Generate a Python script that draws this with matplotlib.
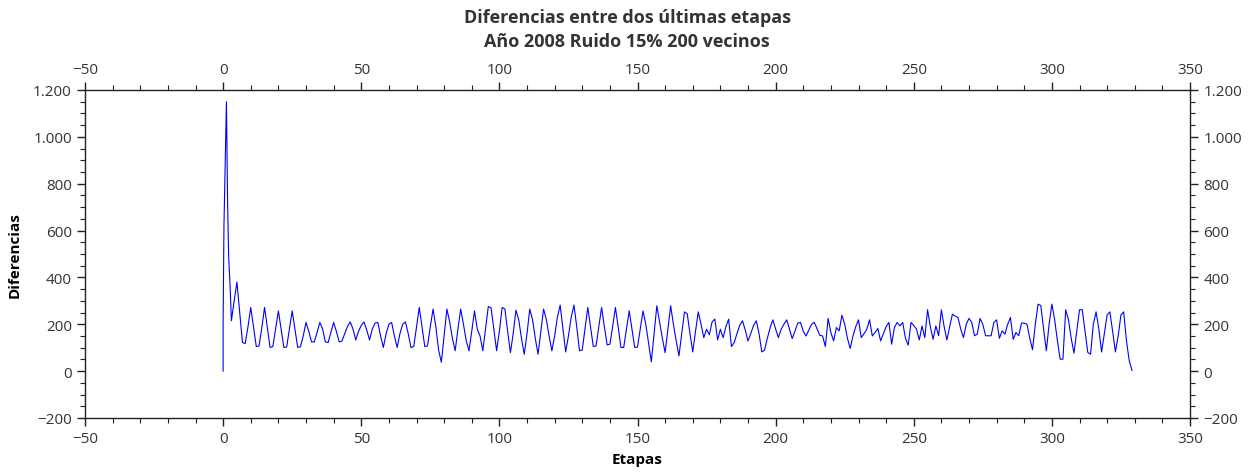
import numpy as np
import matplotlib
matplotlib.use("Agg")
import matplotlib.pyplot as plt
from matplotlib.ticker import MultipleLocator, FuncFormatter

plt.rcParams['font.family'] = ['Open Sans', 'DejaVu Sans']

# Initial spike (stage positions and values)
etapas_inicio = [0, 0, 0.3, 1.0, 1.2, 1.6, 2.0, 2.5]
dif_inicio = [0, 210, 620, 1030, 1150, 730, 490, 370]

# Regular stages from 3 to 329
etapa_regular_inicio = 3
dif_regular = [
    215, 300, 380, 250, 122, 118, 190,                     # 3-9
    272, 190, 105, 108, 185, 272, 185, 101, 105, 180,      # 10-19
    257, 180, 101, 103, 180, 257, 180, 101, 104, 150,      # 20-29
    208, 170, 125, 125, 165, 208, 180, 125, 122, 165,      # 30-39
    208, 170, 125, 128, 160, 190, 210, 180, 133, 170,      # 40-49
    195, 210, 175, 133, 180, 205, 208, 150, 101, 160,      # 50-59
    200, 208, 150, 101, 160, 200, 210, 160, 101, 105,      # 60-69
    190, 272, 190, 105, 108, 190, 265, 190, 90, 38,        # 70-79
    150, 265, 210, 140, 87, 180, 265, 200, 130, 87,        # 80-89
    170, 257, 179, 150, 87, 180, 276, 270, 180, 87,        # 90-99
    170, 272, 265, 170, 79, 160, 260, 220, 140, 72,        # 100-109
    160, 265, 220, 140, 72, 170, 265, 220, 150, 87,        # 110-119
    150, 230, 282, 180, 82, 150, 230, 282, 190, 87,        # 120-129
    90, 180, 272, 190, 105, 108, 190, 272, 190, 112,       # 130-139
    115, 190, 272, 190, 101, 101, 180, 257, 180, 101,      # 140-149
    103, 180, 257, 200, 120, 40, 160, 279, 210, 140,       # 150-159
    79, 180, 279, 200, 130, 65, 160, 253, 245, 160,        # 160-169
    82, 170, 253, 200, 143, 179, 155, 210, 222, 133,       # 170-179
    179, 143, 190, 222, 105, 122, 160, 195, 215, 175,      # 180-189
    129, 160, 195, 215, 160, 82, 90, 140, 185, 219,        # 190-199
    180, 143, 179, 200, 219, 180, 139, 170, 205, 208,      # 200-209
    170, 150, 175, 200, 208, 180, 153, 150, 105, 225,      # 210-219
    165, 129, 186, 172, 239, 200, 140, 97, 150, 190,       # 220-229
    219, 143, 160, 179, 219, 150, 165, 182, 129, 160,      # 230-239
    190, 208, 115, 186, 208, 193, 208, 140, 111, 208,      # 240-249
    195, 179, 133, 193, 143, 262, 190, 136, 193, 151,      # 250-259
    262, 190, 133, 190, 243, 235, 229, 180, 143, 200,      # 260-269
    225, 208, 151, 158, 225, 200, 151, 151, 151, 208,      # 270-279
    219, 140, 172, 158, 200, 229, 136, 165, 151, 205,      # 280-289
    205, 200, 140, 91, 200, 286, 280, 180, 87, 200,        # 290-299
    286, 220, 130, 51, 51, 262, 220, 140, 77, 170,         # 300-309
    262, 262, 170, 80, 72, 200, 253, 180, 82, 160,         # 310-319
    240, 253, 170, 82, 150, 240, 253, 129, 45, 3,          # 320-329
]

etapas = list(etapas_inicio) + list(range(etapa_regular_inicio,
                                          etapa_regular_inicio + len(dif_regular)))
diferencias = list(dif_inicio) + list(dif_regular)

fig = plt.figure(figsize=(12.54, 4.77), dpi=100)
ax = fig.add_axes([85/1254, 1 - 419/477, (1190-85)/1254, (419-91)/477])

ax.plot(etapas, diferencias, color='#0000ff', linewidth=0.8)

ax.set_xlim(-50, 350)
ax.set_ylim(-200, 1200)

ax.xaxis.set_major_locator(MultipleLocator(50))
ax.xaxis.set_minor_locator(MultipleLocator(10))
ax.yaxis.set_major_locator(MultipleLocator(200))
ax.yaxis.set_minor_locator(MultipleLocator(50))


def fmt(v, pos):
    iv = int(round(v))
    s = f"{abs(iv):,}".replace(",", ".")
    return ("\u2212" + s) if iv < 0 else s


ax.xaxis.set_major_formatter(FuncFormatter(fmt))
ax.yaxis.set_major_formatter(FuncFormatter(fmt))

ax.tick_params(which='both', direction='out', top=True, right=True,
               labeltop=True, labelright=True, colors='#333333',
               labelsize=11)
ax.tick_params(which='major', length=6, width=1, color='#222222')
ax.tick_params(which='minor', length=3.5, width=0.8, color='#222222')

for sp in ax.spines.values():
    sp.set_color('#222222')
    sp.set_linewidth(1)

ax.set_xlabel('Etapas', fontsize=11, fontweight='bold', labelpad=4)
ax.set_ylabel('Diferencias', fontsize=11, fontweight='bold', labelpad=8)

fig.text(0.5, 1 - 18/477, 'Diferencias entre dos últimas etapas',
         ha='center', va='center', fontsize=13, fontweight='bold', color='#333333')
fig.text(0.5, 1 - 42/477, 'Año 2008 Ruido 15% 200 vecinos',
         ha='center', va='center', fontsize=13, fontweight='bold', color='#333333')

fig.savefig('out.png', dpi=100)
